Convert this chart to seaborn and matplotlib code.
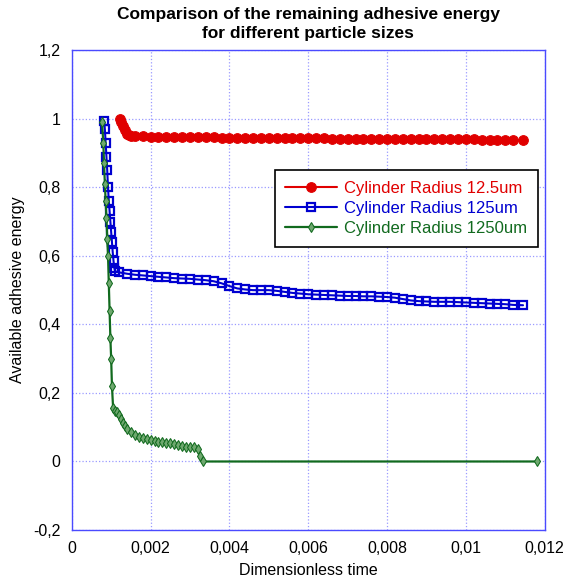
import numpy as np
import seaborn as sns
import matplotlib
matplotlib.use("Agg")
import matplotlib.pyplot as plt
from matplotlib.ticker import FuncFormatter

# values
red_x = [0.00122, 0.00126, 0.0013, 0.00135, 0.0014, 0.00145, 0.0015, 0.0016,
         0.0018, 0.002, 0.0022, 0.0024, 0.0026, 0.0028, 0.003, 0.0032, 0.0034, 0.0036,
         0.0038, 0.004, 0.0042, 0.0044, 0.0046, 0.0048, 0.005, 0.0052, 0.0054, 0.0056,
         0.0058, 0.006, 0.0062, 0.0064, 0.0066, 0.0068, 0.007, 0.0072, 0.0074, 0.0076,
         0.0078, 0.008, 0.0082, 0.0084, 0.0086, 0.0088, 0.009, 0.0092, 0.0094, 0.0096,
         0.0098, 0.01, 0.0102, 0.0104, 0.0106, 0.0108, 0.011, 0.0112, 0.01145]
red_y = [1.0, 0.99, 0.978, 0.966, 0.957, 0.952, 0.95, 0.949,
         0.949, 0.948, 0.948, 0.948, 0.947, 0.947, 0.946, 0.946, 0.946, 0.946,
         0.945, 0.945, 0.945, 0.945, 0.944, 0.944, 0.944, 0.944, 0.944, 0.943,
         0.943, 0.943, 0.943, 0.943, 0.942, 0.942, 0.942, 0.942, 0.942, 0.942,
         0.941, 0.941, 0.941, 0.941, 0.941, 0.941, 0.94, 0.94, 0.94, 0.94,
         0.94, 0.94, 0.94, 0.939, 0.939, 0.939, 0.939, 0.938, 0.938]

blue_x = [0.00082, 0.00084, 0.00086, 0.00088, 0.0009, 0.00092, 0.00094, 0.00096,
          0.00098, 0.001, 0.00102, 0.00104, 0.00106, 0.00108, 0.0011,
          0.0012, 0.0014, 0.0016, 0.0018, 0.002, 0.0022, 0.0024, 0.0026, 0.0028,
          0.003, 0.0032, 0.0034, 0.0036, 0.0038, 0.004, 0.0042, 0.0044, 0.0046,
          0.0048, 0.005, 0.0052, 0.0054, 0.0056, 0.0058, 0.006, 0.0062, 0.0064,
          0.0066, 0.0068, 0.007, 0.0072, 0.0074, 0.0076, 0.0078, 0.008, 0.0082,
          0.0084, 0.0086, 0.0088, 0.009, 0.0092, 0.0094, 0.0096, 0.0098, 0.01,
          0.0102, 0.0104, 0.0106, 0.0108, 0.011, 0.0112, 0.01145]
blue_y = [0.995, 0.97, 0.93, 0.89, 0.85, 0.8, 0.76, 0.73, 0.7, 0.67,
          0.64, 0.61, 0.585, 0.565, 0.555, 0.552, 0.548, 0.545, 0.543, 0.541,
          0.539, 0.537, 0.535, 0.534, 0.533, 0.531, 0.529, 0.526, 0.52, 0.512,
          0.505, 0.502, 0.5, 0.5, 0.5, 0.498, 0.495, 0.492, 0.49, 0.488,
          0.487, 0.486, 0.485, 0.484, 0.483, 0.483, 0.482, 0.482, 0.481, 0.48,
          0.478, 0.474, 0.47, 0.468, 0.467, 0.466, 0.466, 0.466, 0.465, 0.464,
          0.463, 0.462, 0.461, 0.46, 0.459, 0.457, 0.456]

green_x = [0.00077, 0.0008, 0.00082, 0.00084, 0.00086, 0.00088, 0.0009, 0.00092,
           0.00094, 0.00096, 0.00098, 0.001, 0.00102, 0.00105, 0.0011, 0.00115,
           0.0012, 0.00125, 0.0013, 0.00135, 0.0014, 0.0015, 0.0016, 0.0017,
           0.0018, 0.0019, 0.002, 0.0021, 0.0022, 0.0023, 0.0024, 0.0025, 0.0026,
           0.0027, 0.0028, 0.0029, 0.003, 0.0031, 0.0032, 0.00325, 0.00333, 0.0118]
green_y = [0.99, 0.93, 0.87, 0.81, 0.76, 0.71, 0.65, 0.6, 0.52, 0.44,
           0.36, 0.3, 0.22, 0.155, 0.148, 0.143, 0.135, 0.125, 0.112, 0.103,
           0.095, 0.085, 0.078, 0.072, 0.068, 0.065, 0.062, 0.06, 0.058, 0.056,
           0.055, 0.053, 0.05, 0.048, 0.045, 0.043, 0.043, 0.042, 0.035, 0.015,
           0.0, 0.0]

labels = ["Cylinder Radius 12.5um", "Cylinder Radius 125um", "Cylinder Radius 1250um"]
colors = ["#e00000", "#0000d0", "#116a1e"]

sns.set_style("white")
plt.rcParams["font.family"] = ["Liberation Sans", "DejaVu Sans"]
plt.rcParams["text.color"] = "black"
plt.rcParams["axes.labelcolor"] = "black"
plt.rcParams["xtick.color"] = "black"
plt.rcParams["ytick.color"] = "black"

fig = plt.figure(figsize=(5.74, 5.78), dpi=100)
ax = fig.add_axes([0.125, 0.083, 0.824, 0.830])

sns.lineplot(x=red_x, y=red_y, color=colors[0], marker="o", markersize=7,
             markeredgecolor=colors[0], linewidth=1.5, sort=False, estimator=None,
             ax=ax, label=labels[0])
sns.lineplot(x=blue_x, y=blue_y, color=colors[1], marker="s", markersize=6,
             markerfacecolor="none", markeredgecolor=colors[1], markeredgewidth=1.6,
             linewidth=1.5, sort=False, estimator=None, ax=ax, label=labels[1])
sns.lineplot(x=green_x, y=green_y, color=colors[2], marker="d", markersize=5,
             markerfacecolor="#6fa86f", markeredgecolor=colors[2],
             linewidth=1.6, sort=False, estimator=None, ax=ax, label=labels[2])

ax.set_xlim(0, 0.012)
ax.set_ylim(-0.2, 1.2)
ax.set_xticks(np.linspace(0, 0.012, 7))
ax.set_yticks(np.linspace(-0.2, 1.2, 8))


def comma_fmt(v, pos):
    if abs(v) < 1e-9:
        return "0"
    return ("%g" % round(v, 6)).replace(".", ",")


ax.xaxis.set_major_formatter(FuncFormatter(comma_fmt))
ax.yaxis.set_major_formatter(FuncFormatter(comma_fmt))
ax.tick_params(length=0, labelsize=11.5, pad=8)

ax.grid(True, color="#9a9aff", linestyle=":", linewidth=0.9)
for s in ax.spines.values():
    s.set_color("#4a4aff")
    s.set_linewidth(1)

ax.set_xlabel("Dimensionless time", fontsize=11.5, labelpad=5)
ax.set_ylabel("Available adhesive energy", fontsize=11.5, labelpad=6)
ax.set_title("Comparison of the remaining adhesive energy\nfor different particle sizes",
             fontsize=12.5, fontweight="bold", pad=9, linespacing=1.3)

leg = ax.legend(loc="upper left", bbox_to_anchor=(0.429, 0.75), borderaxespad=0,
                frameon=True, fancybox=False, edgecolor="black", framealpha=1,
                fontsize=12, handlelength=3.1, borderpad=0.65, labelspacing=0.3,
                handletextpad=0.4)
leg.get_frame().set_linewidth(1.2)
for txt, c in zip(leg.get_texts(), colors):
    txt.set_color(c)

fig.savefig("out.png", dpi=100)
